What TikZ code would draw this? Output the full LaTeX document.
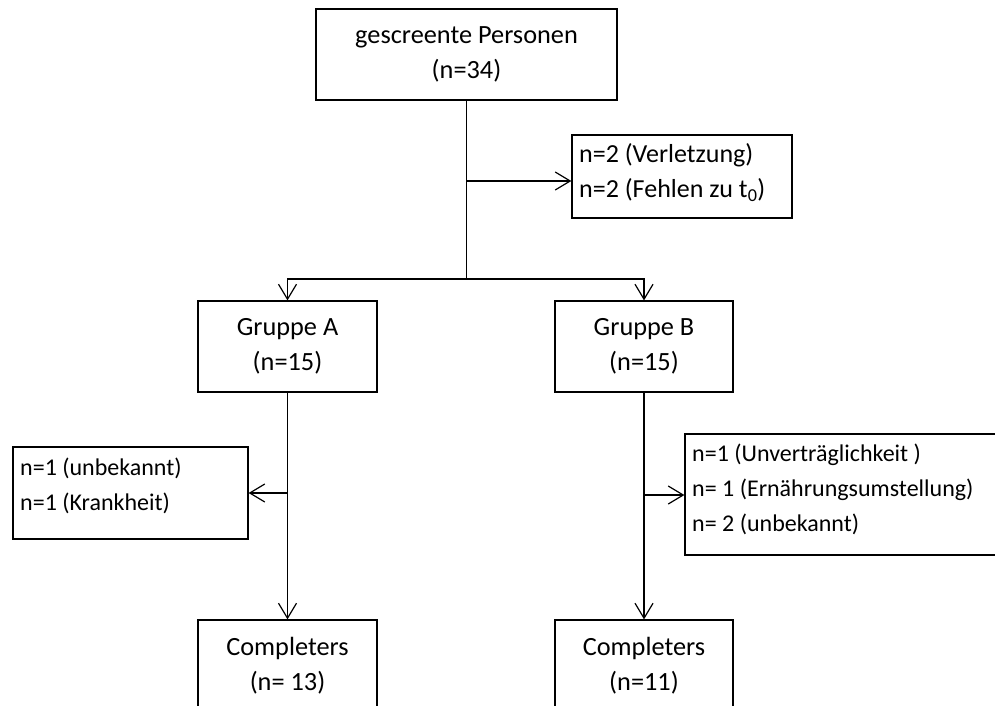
\documentclass[tikz,border=0pt]{standalone}
\usepackage{fontspec}
\setmainfont{Carlito}
\usetikzlibrary{arrows.meta}
\begin{document}
\begin{tikzpicture}[x=1pt,y=-1pt,
  box/.style={draw, line width=1.2pt, inner sep=0pt},
  lbl/.style={font=\fontsize{26.3}{35}\selectfont, inner sep=0pt, align=center},
  lbll/.style={font=\fontsize{24}{35}\selectfont, inner sep=0pt, align=left, anchor=west},
  ln/.style={line width=1.2pt},
  conn/.style={line width=1.2pt, -{Straight Barb[length=15pt,width=18pt,line width=1.2pt]}}]
\useasboundingbox (0,0) rectangle (995,706);
\clip (0,0) rectangle (995,706);
% boxes
\node[box, minimum width=301pt, minimum height=91pt] (top) at (466.5,54.5) {};
\node[lbl] (toptxt) at (top) {gescreente Personen\\(n=34)};
\node[box, minimum width=220pt, minimum height=83pt] (r1) at (682,176.5) {};
\node[lbll, font=\fontsize{26}{35}\selectfont] (r1txt) at (579,172.5) {n=2 (Verletzung)\\n=2 (Fehlen zu t\textsubscript{0})};
\node[box, minimum width=179pt, minimum height=91pt] (A) at (287.5,346.5) {};
\node[lbl] (Atxt) at (A) {Gruppe A\\(n=15)};
\node[box, minimum width=178pt, minimum height=91pt] (B) at (644,346.5) {};
\node[lbl] (Btxt) at (B) {Gruppe B\\(n=15)};
\node[box, minimum width=235pt, minimum height=92pt] (L) at (130.5,493) {};
\node[lbll] (Ltxt) at (20,486) {n=1 (unbekannt)\\n=1 (Krankheit)};
\node[box, minimum width=325pt, minimum height=121pt] (R2) at (847.5,494.5) {};
\node[lbll] (R2txt) at (692,489) {n=1 (Unverträglichkeit )\\n= 1 (Ernährungsumstellung)\\n= 2 (unbekannt)};
\node[box, minimum width=179pt, minimum height=91pt] (CA) at (287.5,665.5) {};
\node[lbl] (CAtxt) at (CA) {Completers\\(n= 13)};
\node[box, minimum width=178pt, minimum height=91pt] (CB) at (644,665.5) {};
\node[lbl] (CBtxt) at (CB) {Completers\\(n=11)};
% junctions
\coordinate (j1) at (466.5,181);
\coordinate (j2) at (466.5,279);
\coordinate (j3) at (287.5,493);
\coordinate (j4) at (644,495);
% connectors
\draw[ln] (top.south) -- (j2);
\draw[conn] (j1) -- (j1 -| r1.west);
\draw[conn] (j2) -| (A.north);
\draw[conn] (j2) -| (B.north);
\draw[conn] (A.south) -- (CA.north);
\draw[conn] (j3) -- (j3 -| L.east);
\draw[conn] (B.south) -- (CB.north);
\draw[conn] (j4) -- (j4 -| R2.west);
\end{tikzpicture}
\end{document}
